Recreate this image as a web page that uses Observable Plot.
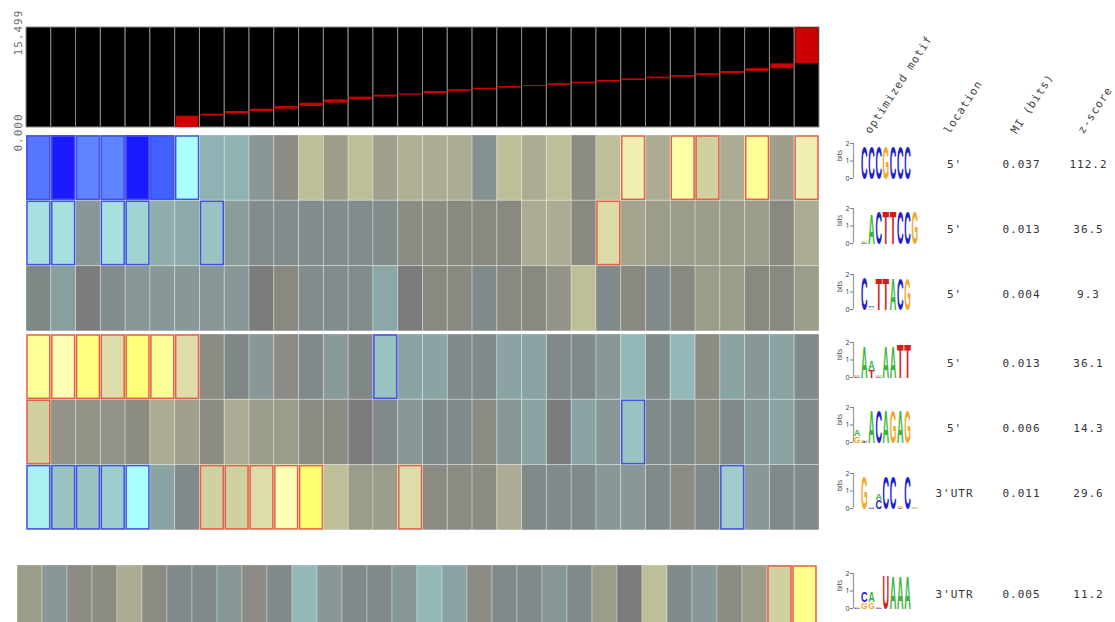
<!DOCTYPE html>
<html>
<head>
<meta charset="utf-8">
<script src="https://cdn.jsdelivr.net/npm/d3@7"></script>
<script src="https://cdn.jsdelivr.net/npm/@observablehq/plot@0.6"></script>
<style>
  body { margin: 0; background: #fff; }
  #chart { position: relative; width: 1115px; height: 622px; overflow: hidden; background: #fff; }
  #chart svg { position: absolute; overflow: visible; background: transparent !important; }
</style>
</head>
<body>
<div id="chart"></div>
<script>
// ---------------- data ----------------
const bins = d3.range(1, 33);
const valueMax = 15.499;
// range of the expression value covered by each of the 32 bins
const binLow  = [0, 0, 0, 0, 0, 0, 0, 1.75, 2.06, 2.48, 2.84, 3.25, 3.77, 4.29, 4.70, 5.01,
                 5.22, 5.58, 5.84, 6.09, 6.35, 6.51, 6.77, 7.02, 7.28, 7.55, 7.80, 8.06, 8.32, 8.68, 9.10, 9.87];
const binHigh = [0, 0, 0, 0, 0, 0, 1.75, 2.06, 2.48, 2.84, 3.25, 3.77, 4.29, 4.70, 5.01, 5.22,
                 5.58, 5.84, 6.09, 6.35, 6.51, 6.77, 7.02, 7.28, 7.55, 7.80, 8.06, 8.32, 8.68, 9.10, 9.87, 15.499];
const yTicks = [0, 15.499];

const motifIds      = ["CCCGCCC", "NACTTCCG", "CNTTACG", "NAWNAATT", "RNACAGAG", "GNMCCNCN", "NSRNUAAA"];
const motifGroup    = [0, 0, 0, 1, 1, 1, 2];
const motifLocation = ["5'", "5'", "5'", "5'", "5'", "3'UTR", "3'UTR"];
const motifMI       = [0.037, 0.013, 0.004, 0.013, 0.006, 0.011, 0.005];
const motifZ        = [112.2, 36.5, 9.3, 36.1, 14.3, 29.6, 11.2];
const tableColumns  = ["optimized motif", "location", "MI (bits)", "z-score"];

// signed log10 enrichment p-values per bin (positive = over-represented)
const enrichM1 = [-7, -10, -6.8, -6.8, -10, -8, -5, -2, -2, -1, 0.5, 3, 1.3, 3, 1.4, 2.2,
                  2, 2, -0.7, 3, 2, 3, 0.5, 3, 4.6, 2, 5.5, 3.6, 2, 6, 1.3, 4.6];
const enrichM2 = [-4, -4, -1, -4, -3.7, -1.8, -1.7, -3.4, -1.2, -0.5, -0.5, -0.5, -0.5, -0.5, -0.5, 0.5,
                  0.5, 0.4, 0.4, 0.4, 2, 2, 0.4, 4, 1.6, 1.2, 1.2, 1.2, 1.2, 1.2, 0.4, 2];
const enrichM3 = [-0.3, -1.3, 0, -0.5, -1, -1, -1, -1, -1, 0, 0.4, -0.5, -0.5, -0.5, -1.6, 0,
                  0.4, 0.4, -0.4, 0.4, 0.4, 0.8, 3, -0.4, 0.4, -0.4, 0.4, 1.2, 1.2, 0.4, 0.4, 1.2];
const enrichM4 = [6, 5, 7, 4.1, 7.3, 6, 4.1, 0.5, -0.3, -1, 0.5, -0.4, -1.1, -0.3, -3.4, -1.5,
                  -1.5, -0.4, -0.4, -1.5, -1.5, -0.4, -0.4, -1, -2.2, -0.4, -2.2, 0.5, -1.5, -1, -1.5, -0.4];
const enrichM5 = [3.6, 0.8, 0.8, 0.8, 0.5, 2, 1.4, 0.5, 2, 1.2, 1.2, 0.5, 0.5, 0, -0.4, -1,
                  -0.4, -0.4, 0.5, -1, -1.5, 0, -1.5, -1, -3.4, -0.4, -0.4, 0.5, -0.4, -1, -1.5, -0.4];
const enrichM6 = [-4.5, -3.4, -3.4, -3.6, -5, -1.5, -0.4, 3.6, 3.6, 4.1, 5, 7.5, 3, 1.2, 1.2, 4.1,
                  0.5, 0.5, 0.5, 2, -0.4, -0.4, -0.4, -1, -1, -0.4, 0.5, -0.4, -3.6, -1, -0.4, -0.4];
const enrichM7 = [1.2, -1, 0.5, 0.5, 2, 0.5, -0.4, -0.4, -1, 0.5, -0.4, -2.2, -1, -0.4, -0.4, -1,
                  -2.2, -1.5, 0.5, -0.4, -0.4, -1, -0.4, 1.2, 0, 3, -0.4, -1, 0.5, 1.2, 3.6, 6.5];
const enrichment = [enrichM1, enrichM2, enrichM3, enrichM4, enrichM5, enrichM6, enrichM7];

// sequence logos: one list per position, letters stacked bottom to top as [letter, bits]
const logoM1 = [[], [["C", 1.9]], [["C", 1.9]], [["C", 1.9]], [["G", 1.9]], [["C", 1.9]], [["C", 1.9]], [["C", 1.9]], []];
const logoM2 = [[], [["C", 0.05], ["G", 0.05], ["A", 0.08]], [["A", 1.75]], [["C", 1.9]], [["T", 1.9]], [["T", 1.9]], [["C", 1.9]], [["C", 1.9]], [["G", 1.9]]];
const logoM3 = [[], [["C", 1.9]], [["G", 0.06], ["A", 0.08], ["C", 0.05]], [["T", 1.85]], [["T", 1.85]], [["A", 1.85]], [["C", 1.85]], [["G", 1.85]], []];
const logoM4 = [[["C", 0.05], ["G", 0.05], ["A", 0.06]], [["A", 1.85]], [["T", 0.45], ["A", 0.55]], [["C", 0.05], ["G", 0.05], ["A", 0.06]], [["A", 1.85]], [["A", 1.85]], [["T", 1.95]], [["T", 1.95]], []];
const logoM5 = [[["G", 0.35], ["A", 0.4]], [["C", 0.05], ["T", 0.05], ["A", 0.06]], [["A", 1.9]], [["C", 1.9]], [["A", 1.9]], [["G", 1.9]], [["A", 1.9]], [["G", 1.9]], []];
const logoM6 = [[], [["G", 1.9]], [["C", 0.05], ["A", 0.06]], [["C", 0.5], ["A", 0.35]], [["C", 1.9]], [["C", 1.9]], [["T", 0.05], ["G", 0.05], ["A", 0.06]], [["C", 1.9]], [["G", 0.05], ["A", 0.08]]];
const logoM7 = [[["C", 0.04], ["G", 0.04]], [["G", 0.35], ["C", 0.6]], [["G", 0.35], ["A", 0.6]], [["C", 0.04], ["G", 0.05]], [["U", 1.95]], [["A", 1.9]], [["A", 1.9]], [["A", 1.9]], []];
const logos = [logoM1, logoM2, logoM3, logoM4, logoM5, logoM6, logoM7];

// ---------------- styling / layout ----------------
const MONO = "DejaVu Sans Mono, monospace";
const SIG = 3.3;                       // |log p| beyond which a cell is outlined
const ROW_H = 65.3;
const groupTop = [135, 334, 565];
const colorStops = [-10, -8, -7, -5, -4.5, -4, -3.4, -2.2, -1.5, -1, -0.4, 0, 0.5, 1.2, 2, 3, 3.6, 4.1, 5, 6, 7, 8];
const colorRamp  = ["#1a1aff", "#4060ff", "#5577ff", "#aaffff", "#aaf0f0", "#a8e0e0", "#9ac4c4", "#94b8b8",
                    "#8aa4a4", "#889898", "#818a8a", "#7c7c7c", "#8c8c84", "#9c9c8a", "#acac94", "#bebe98",
                    "#d0d0a0", "#dedcaa", "#ffffb8", "#ffff98", "#ffff80", "#ffff68"];
const LETTER_COLOR = {A: "#3cb43c", C: "#1e1ec8", G: "#f5a623", T: "#d41c1c", U: "#d41c1c"};
const LETTER_ADVANCE = {A: 0.722, C: 0.722, G: 0.778, T: 0.611, U: 0.722};
const LETTER_FONT = 10;
const LOGO_TAG = "sequence logo letters";

const chart = document.getElementById("chart");
function place(svg, left, top) {
  svg.style.left = left + "px";
  svg.style.top = top + "px";
  chart.appendChild(svg);
  return svg;
}
const binScale = {type: "band", domain: bins, padding: 0, round: false, axis: null};
const columnScale = {type: "point", domain: tableColumns, range: [67, 268], padding: 0, round: false, axis: null};

// ---------------- expression range per bin ----------------
const binData = bins.map((b, i) => ({bin: b, lo: binLow[i], hi: binHigh[i]}));
place(Plot.plot({
  width: 830, height: 135,
  marginLeft: 26, marginRight: 11, marginTop: 27, marginBottom: 8,
  x: binScale,
  y: {domain: [0, valueMax], axis: null},
  style: {letterSpacing: "1px"},
  marks: [
    Plot.barY(bins, {x: d => d, y1: 0, y2: valueMax, fill: "black", stroke: "#8c8c8c", strokeWidth: 1}),
    Plot.barY(binData, {x: "bin", y1: "lo", y2: "hi", fill: "#cc0000", insetLeft: 1, insetRight: 1}),
    Plot.text(yTicks, {y: d => d, text: d => d3.format(".3f")(d), frameAnchor: "left", dx: -8, dy: 5,
      rotate: -90, textAnchor: "middle", fill: "#707070", fontFamily: MONO, fontSize: 11})
  ]
}), 0, 0);

// ---------------- column headers ----------------
place(Plot.plot({
  width: 295, height: 140, marginTop: 0, marginBottom: 6, marginLeft: 0, marginRight: 0,
  x: columnScale,
  style: {letterSpacing: "1px"},
  marks: [
    Plot.text(tableColumns.slice(0, 1), {x: d => d, text: d => d, frameAnchor: "bottom", dx: -17,
      rotate: -57, textAnchor: "start", lineAnchor: "bottom", fill: "#444", fontFamily: MONO, fontSize: 11}),
    Plot.text(tableColumns.slice(1), {x: d => d, text: d => d, frameAnchor: "bottom", dx: -5,
      rotate: -57, textAnchor: "start", lineAnchor: "bottom", fill: "#444", fontFamily: MONO, fontSize: 11})
  ]
}), 820, 0);

// ---------------- heatmap groups + table ----------------
[0, 1, 2].forEach(g => {
  const rows = motifIds.map((id, i) => i).filter(i => motifGroup[i] === g);
  const ids = rows.map(i => motifIds[i]);
  const cells = rows.flatMap(i => enrichment[i].map((v, j) => ({motif: motifIds[i], bin: bins[j], v})));
  const last = g === 2;
  const left = last ? 17 : 26, right = last ? 817 : 819;
  const rowScale = {type: "band", domain: ids, padding: 0, round: false, axis: null};
  place(Plot.plot({
    width: 830, height: ids.length * ROW_H,
    marginLeft: left, marginRight: 830 - right, marginTop: 0, marginBottom: 0,
    x: binScale,
    y: rowScale,
    color: {type: "linear", domain: colorStops, range: colorRamp, interpolate: "rgb"},
    marks: [
      Plot.cell(cells, {x: "bin", y: "motif", fill: "v", stroke: "#ffffff", strokeOpacity: 0.3, strokeWidth: 1}),
      Plot.cell(cells, {x: "bin", y: "motif", filter: d => d.v >= SIG, fill: "none",
        stroke: "#e5604a", strokeWidth: 1.5, inset: 1}),
      Plot.cell(cells, {x: "bin", y: "motif", filter: d => d.v <= -SIG, fill: "none",
        stroke: "#4650e4", strokeWidth: 1.5, inset: 1})
    ]
  }), 0, groupTop[g]);

  const table = rows.map(i => ({motif: motifIds[i], loc: motifLocation[i], mi: motifMI[i], z: motifZ[i]}));
  const textOpts = {y: "motif", dy: -4, fill: "#333", fontFamily: MONO, fontSize: 11, textAnchor: "middle"};
  place(Plot.plot({
    width: 295, height: ids.length * ROW_H, marginTop: 0, marginBottom: 0, marginLeft: 0, marginRight: 0,
    x: columnScale,
    y: rowScale,
    style: {letterSpacing: "1px"},
    marks: [
      Plot.text(table, {...textOpts, x: () => "location", text: "loc"}),
      Plot.text(table, {...textOpts, x: () => "MI (bits)", text: d => d3.format(".3f")(d.mi)}),
      Plot.text(table, {...textOpts, x: () => "z-score", text: d => d3.format(".1f")(d.z)})
    ]
  }), 820, groupTop[g]);

  // sequence logo for each motif in the group
  rows.forEach((i, k) => {
    const letters = logos[i].flatMap((col, p) => {
      let acc = 0;
      return col.map(([letter, bits]) => {
        const d = {pos: p, letter, y1: acc, y2: acc + bits};
        acc += bits;
        return d;
      });
    });
    const logo = Plot.plot({
      width: 100, height: 60, marginLeft: 27, marginRight: 8.2, marginTop: 8, marginBottom: 17,
      x: {domain: [0, 9], axis: null},
      y: {domain: [0, 2], axis: null},
      marks: [
        Plot.axisY({ticks: [0, 1, 2], tickFormat: d3.format("d"), label: null, tickSize: 3, tickPadding: 1,
          fontSize: 7, stroke: "#777", fill: "#444"}),
        Plot.ruleX([0], {y1: 0, y2: 2, stroke: "#999", strokeWidth: 1.2}),
        Plot.text(["bits"], {text: d => d, frameAnchor: "left", rotate: -90, dx: -14, fontSize: 6.5, fill: "#444"}),
        Plot.text(letters, {x: "pos", y: "y1", text: "letter", fill: d => LETTER_COLOR[d.letter],
          textAnchor: "start", lineAnchor: "bottom", fontSize: LETTER_FONT, fontWeight: "bold",
          fontFamily: "Liberation Sans, Arial, sans-serif", ariaDescription: LOGO_TAG})
      ]
    });
    place(logo, 826, groupTop[g] + k * ROW_H);
    // stretch each glyph so it fills its column and its information height
    const xs = logo.scale("x"), ys = logo.scale("y");
    const colW = Math.abs(xs.apply(1) - xs.apply(0));
    let group = logo.querySelector(`g[aria-description="${LOGO_TAG}"]`);
    if (!group) {
      const textGroups = logo.querySelectorAll('g[aria-label="text"]');
      group = textGroups[textGroups.length - 1];
    }
    group.querySelectorAll("text").forEach((node, n) => {
      const d = letters[n];
      const h = Math.abs(ys.apply(d.y2) - ys.apply(d.y1));
      const sx = (colW - 0.6) / (LETTER_ADVANCE[d.letter] * LETTER_FONT);
      const sy = h / (0.716 * LETTER_FONT);
      const t = node.getAttribute("transform") || "";
      const m = t.match(/translate\(\s*([-\d.e]+)[,\s]+([-\d.e]+)\s*\)/);
      let tx, ty;
      if (m) { tx = +m[1]; ty = +m[2]; }
      else { tx = +(node.getAttribute("x") || 0); ty = +(node.getAttribute("y") || 0); node.removeAttribute("x"); node.removeAttribute("y"); }
      node.removeAttribute("dy");
      node.setAttribute("transform", `translate(${tx + 0.3},${ty}) scale(${sx},${sy})`);
    });
  });
});
</script>
</body>
</html>
